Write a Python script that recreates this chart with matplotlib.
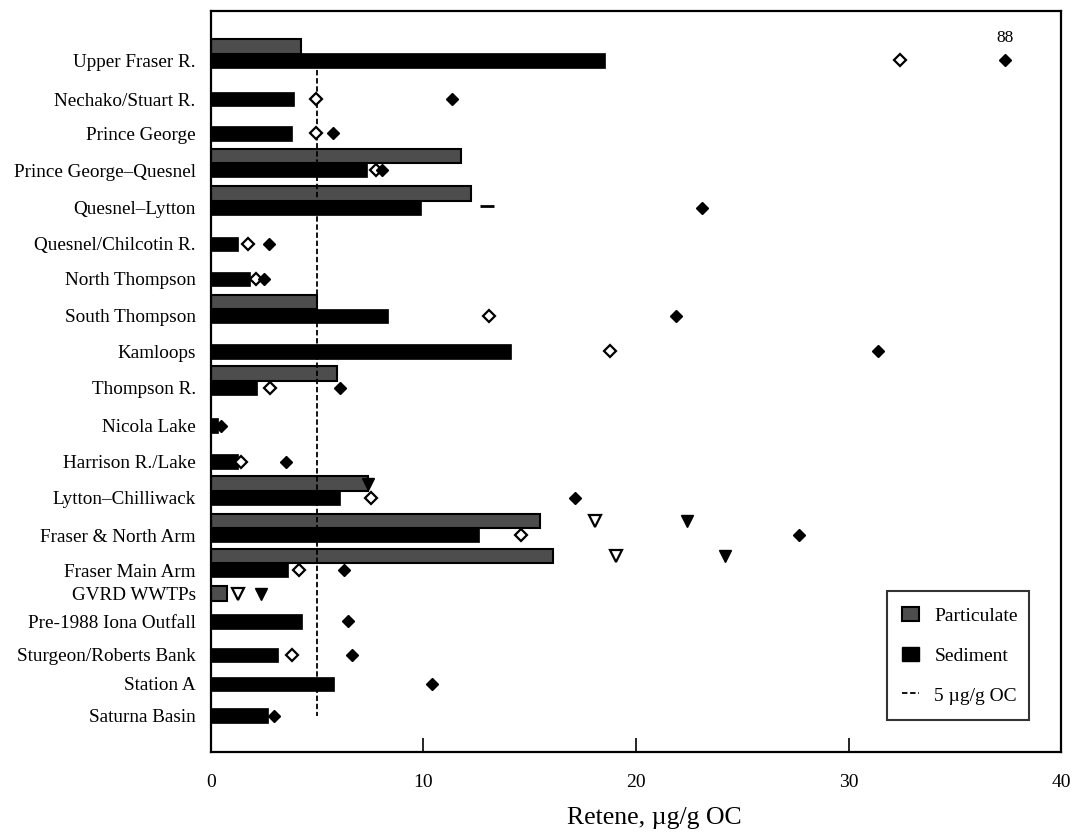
import numpy as np
import matplotlib
matplotlib.use("Agg")
import matplotlib.pyplot as plt
from matplotlib.patches import Patch
from matplotlib.lines import Line2D

nan = np.nan
sites = ["Upper Fraser R.", "Nechako/Stuart R.", "Prince George", "Prince George\u2013Quesnel",
         "Quesnel\u2013Lytton", "Quesnel/Chilcotin R.", "North Thompson", "South Thompson",
         "Kamloops", "Thompson R.", "Nicola Lake", "Harrison R./Lake", "Lytton\u2013Chilliwack",
         "Fraser & North Arm", "Fraser Main Arm", "GVRD WWTPs", "Pre-1988 Iona Outfall",
         "Sturgeon/Roberts Bank", "Station A", "Saturna Basin"]

particulate = [4.23, nan, nan, 11.78, 12.23, nan, nan, 4.98, nan, 5.94,
               nan, nan, 7.4, 15.5, 16.08, 0.76, nan, nan, nan, nan]
sediment = [18.56, 3.9, 3.79, 7.35, 9.9, 1.26, 1.83, 8.34, 14.1, 2.18,
            0.33, 1.26, 6.07, 12.6, 3.62, nan, 4.28, 3.14, 5.8, 2.68]
sed_open = [32.4, 4.94, 4.94, 7.75, nan, 1.75, 2.1, 13.1, 18.8, 2.8,
            nan, 1.39, 7.52, 14.58, 4.12, nan, nan, 3.8, nan, nan]
sed_filled = [37.35, 11.35, 5.75, 8.05, 23.1, 2.75, 2.5, 21.9, 31.4, 6.06,
              0.45, 3.54, 17.15, 27.66, 6.27, nan, 6.45, 6.65, 10.41, 2.98]
part_open = [nan, nan, nan, nan, nan, nan, nan, nan, nan, nan,
             nan, nan, nan, 18.06, 19.07, 1.26, nan, nan, nan, nan]
part_filled = [nan, nan, nan, nan, nan, nan, nan, nan, nan, nan,
               nan, nan, 7.4, 22.4, 24.2, 2.33, nan, nan, nan, nan]
sed_dash = [nan, nan, nan, nan, 13.0, nan, nan, nan, nan, nan,
            nan, nan, nan, nan, nan, nan, nan, nan, nan, nan]
guideline = 5
offscale_label = "88"

# layout: row positions (sediment slot centre), in row units
row_y = np.array([0, 1.06, 2.0, 3.01, 4.05, 5.04, 6.0, 7.02, 7.99, 8.99,
                  10.03, 11.02, 12.02, 13.04, 14.0, 15.04, 15.41, 16.33, 17.13, 18.0])
part_off = -0.39
bar_h = 0.40

plt.rcParams['font.family'] = ['Liberation Serif', 'DejaVu Serif']

fig = plt.figure(figsize=(10.82, 8.40), dpi=100)
ax = fig.add_axes([0.195, 0.1048, 0.7856, 0.8821])

part_y = row_y + part_off
ax.barh(part_y, particulate, height=bar_h, color='#4d4d4d', edgecolor='black', linewidth=1.5, zorder=2)
ax.barh(row_y, sediment, height=bar_h, color='black', edgecolor='black', linewidth=0.5, zorder=2)

ax.plot(sed_open, row_y, ls='none', marker='D', ms=6, mfc='white', mec='black', mew=1.6, zorder=4)
ax.plot(sed_filled, row_y, ls='none', marker='D', ms=6, mfc='black', mec='black', mew=1.0, zorder=4)
ax.plot(part_open, part_y, ls='none', marker='v', ms=8.5, mfc='white', mec='black', mew=1.6, zorder=4)
ax.plot(part_filled, part_y, ls='none', marker='v', ms=8.5, mfc='black', mec='black', mew=1.0, zorder=4)
ax.plot(sed_dash, row_y - 0.04, ls='none', marker='_', ms=10, mec='black', mew=2.0, zorder=4)

ax.plot([guideline, guideline], [row_y[0] + 0.26, row_y[-1]], color='black', lw=1.3,
        ls=(0, (3, 1.5)), zorder=3)

ax.text(sed_filled[0], row_y[0] - 0.40, offscale_label, ha='center', va='bottom', fontsize=12.5)

label_y = row_y.copy()
label_y[15] = part_y[15]
ax.set_yticks(label_y)
ax.set_yticklabels(sites, fontsize=13.8)
ax.tick_params(axis='y', length=0, pad=11)

ax.set_xlim(0, 40)
ax.set_xticks([0, 10, 20, 30, 40])
ax.tick_params(axis='x', direction='in', length=10, width=1.2, pad=16, labelsize=14, top=False)
ax.set_ylim(19.0, -1.36)
ax.set_xlabel("Retene, \u00b5g/g OC", fontsize=18.5, labelpad=10)
ax.xaxis.set_label_coords(0.522, -0.074)

for s in ax.spines.values():
    s.set_linewidth(1.6)

handles = [Patch(facecolor='#4d4d4d', edgecolor='black', linewidth=1.5, label='Particulate'),
           Patch(facecolor='black', edgecolor='black', label='Sediment'),
           Line2D([0], [0], color='black', lw=1.3, ls=(0, (3, 1.5)), label='5 \u00b5g/g OC')]
leg = ax.legend(handles=handles, loc='upper left', bbox_to_anchor=(0.795, 0.217, 0.167, 0.0),
                mode='expand', fontsize=14, frameon=True, fancybox=False, edgecolor='black',
                handlelength=0.88, handleheight=0.78, labelspacing=1.12, borderpad=0.8,
                handletextpad=0.77, borderaxespad=0.0)
leg.get_frame().set_linewidth(1.5)

fig.savefig("out.png", dpi=100)
